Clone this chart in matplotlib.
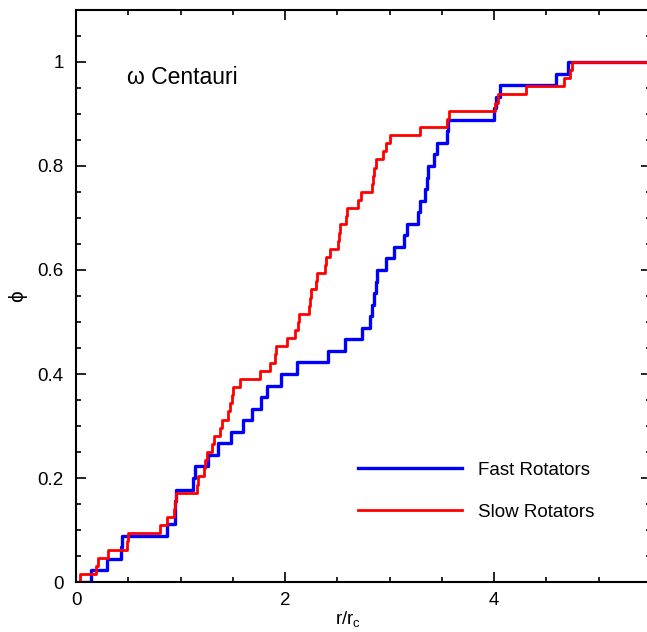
import matplotlib.pyplot as plt
import numpy as np
from matplotlib.ticker import MultipleLocator

plt.rcParams['font.family'] = ['Liberation Sans', 'DejaVu Sans']

# radii (r/r_c) of the stars
fast_r = [0.14, 0.30, 0.43, 0.44, 0.87, 0.95, 0.95, 0.96, 1.12, 1.14,
          1.26, 1.36, 1.48, 1.60, 1.68, 1.77, 1.83, 1.96, 2.11, 2.41,
          2.57, 2.74, 2.81, 2.83, 2.85, 2.87, 2.88, 2.97, 3.04, 3.14,
          3.17, 3.27, 3.29, 3.34, 3.36, 3.37, 3.43, 3.45, 3.55, 3.56,
          4.00, 4.02, 4.06, 4.59, 4.71]
slow_r = [0.04, 0.19, 0.21, 0.31, 0.49, 0.50, 0.80, 0.87, 0.94, 0.95,
          0.96, 1.16, 1.17, 1.22, 1.23, 1.25, 1.30, 1.32, 1.38, 1.40,
          1.45, 1.47, 1.49, 1.50, 1.57, 1.76, 1.86, 1.90, 1.91, 2.02,
          2.10, 2.12, 2.13, 2.23, 2.24, 2.25, 2.30, 2.31, 2.38, 2.39,
          2.43, 2.51, 2.52, 2.53, 2.58, 2.59, 2.70, 2.73, 2.83, 2.84,
          2.85, 2.87, 2.94, 2.97, 3.00, 3.29, 3.55, 3.57, 4.01, 4.04,
          4.31, 4.67, 4.73, 4.75]

x_max = 5.5
y_max = 1.1
x_ticks = [0, 2, 4]
y_ticks = [0, 0.2, 0.4, 0.6, 0.8, 1]
y_ticklabels = ['0', '0.2', '0.4', '0.6', '0.8', '1']


def cdf(r):
    r = np.sort(np.asarray(r))
    x = np.concatenate([[0], r, [x_max]])
    y = np.concatenate([[0], np.arange(1, len(r) + 1) / len(r), [1]])
    return x, y


fig = plt.figure(figsize=(6.47, 6.32), dpi=100)
ax = fig.add_axes([0.1175, 0.0791, 0.8883, 0.9051])

xf, yf = cdf(fast_r)
xs, ys = cdf(slow_r)
ax.step(xf, yf, where='post', color='#0000ff', lw=2.4, label='Fast Rotators')
ax.step(xs, ys, where='post', color='#ff0000', lw=2.0, label='Slow Rotators')

ax.set_xlim(0, x_max)
ax.set_ylim(0, y_max)
ax.set_xticks(x_ticks)
ax.set_xticklabels([str(t) for t in x_ticks])
ax.set_yticks(y_ticks)
ax.set_yticklabels(y_ticklabels)
ax.xaxis.set_minor_locator(MultipleLocator(0.5))
ax.yaxis.set_minor_locator(MultipleLocator(0.05))
ax.tick_params(which='both', direction='in', top=True, right=True,
               width=1.2, labelsize=13.5)
ax.tick_params(axis='x', which='major', pad=7)
ax.tick_params(axis='y', which='major', pad=9)
ax.tick_params(which='major', length=7)
ax.tick_params(which='minor', length=3.5)
for s in ax.spines.values():
    s.set_linewidth(1.5)

ax.set_xlabel('r/r$_\\mathregular{c}$', fontsize=13.5)
ax.xaxis.set_label_coords(0.473, -0.048)
ax.set_ylabel('\u03d5', fontsize=15)
ax.yaxis.set_label_coords(-0.085, 0.5)

ax.text(0.49, 0.97, '\u03c9 Centauri', fontsize=16.5, ha='left', va='center')

ax.legend(loc='center left', bbox_to_anchor=(0.49, 0.159), frameon=False,
          fontsize=13.5, handlelength=5.55, handletextpad=0.85,
          labelspacing=1.32, borderpad=0, borderaxespad=0)

fig.savefig('out.png', dpi=100)
